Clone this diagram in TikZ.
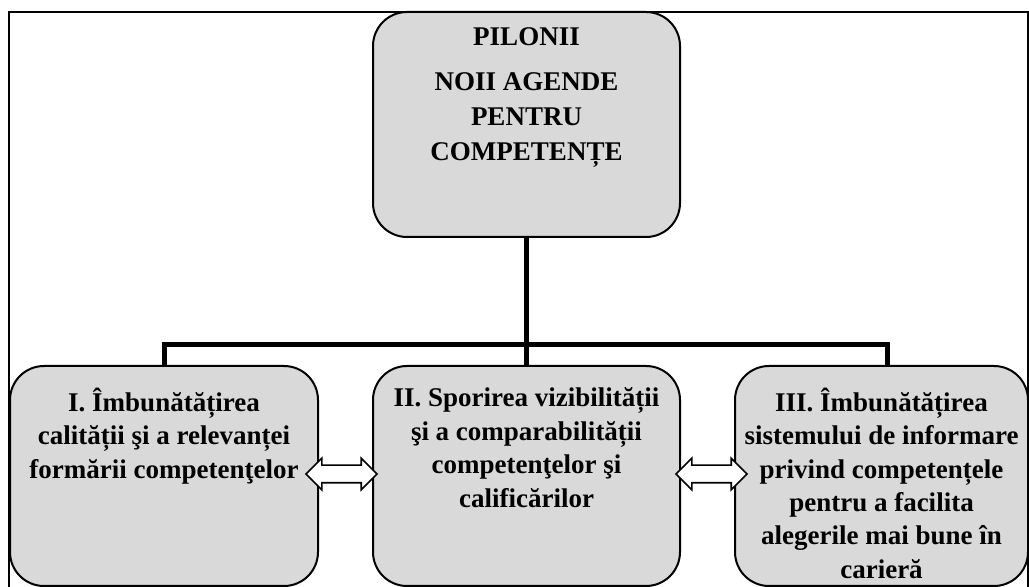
\documentclass[tikz,border=0pt]{standalone}
\usepackage{fontspec}
\setmainfont{Liberation Serif}
\usetikzlibrary{calc,shapes.arrows}
\definecolor{pillarfill}{HTML}{D9D9D9}
\tikzset{
  pillar/.style={draw, line width=1pt, fill=pillarfill, rounded corners=17pt, inner sep=0pt},
  pillartext/.style={anchor=north, align=center, inner sep=0pt,
    font=\bfseries\fontsize{13.5}{16.7}\selectfont,
    execute at begin node={\rule{0pt}{1em}}},
  link/.style={line width=2.5pt},
  dblarrow/.style={double arrow, draw, line width=0.8pt, fill=white, inner sep=4pt,
    double arrow head extend=3.5pt, minimum height=35.5pt}
}
\begin{document}
\begin{tikzpicture}[x=0.5pt,y=-0.5pt]
      \useasboundingbox (0,0) rectangle (1029,587);
      \draw[line width=1pt] (9,12) rectangle (1028,620);
      \draw
        (526.5,124.5) node[pillar, minimum width=153.5pt, minimum height=112.5pt] (pilonii){}
        (164,476) node[pillar, minimum width=154pt, minimum height=110pt] (p1){}
        (526.5,476) node[pillar, minimum width=153.5pt, minimum height=110pt] (p2){}
        (881.5,476) node[pillar, minimum width=146.5pt, minimum height=110pt] (p3){};
      \coordinate (bus) at (526.5,345);
      \begin{scope}[link]
        \draw (pilonii) to (p2);
        \draw (p1.north) |- (bus) -| ([xshift=2.75pt]p3.north);
      \end{scope}
      \draw
        (pilonii.north) ++(0,16) node[pillartext, font=\bfseries\fontsize{13.5}{17.5}\selectfont] (t0){PILONII\\[5pt]NOII AGENDE\\PENTRU\\COMPETENȚE}
        (p1.north) ++(0,22.5) node[pillartext] (t1){I. Îmbunătățirea\\calității şi a relevanței\\formării competenţelor}
        (p2.north) ++(0,22.5) node[pillartext] (t2){II. Sporirea vizibilității\\şi a comparabilității\\competenţelor şi\\calificărilor}
        (p3.north) ++(0,22.5) node[pillartext] (t3){III. Îmbunătățirea\\sistemului de informare\\privind competențele\\pentru a facilita\\alegerile mai bune în\\carieră};
      \node[dblarrow] (a12) at ($(p1.east)!0.5!(p2.west)+(-4,-2)$) {};
      \node[dblarrow] (a23) at ($(p2.east)!0.5!(p3.west)+(4,-2)$) {};
\end{tikzpicture}
\end{document}
